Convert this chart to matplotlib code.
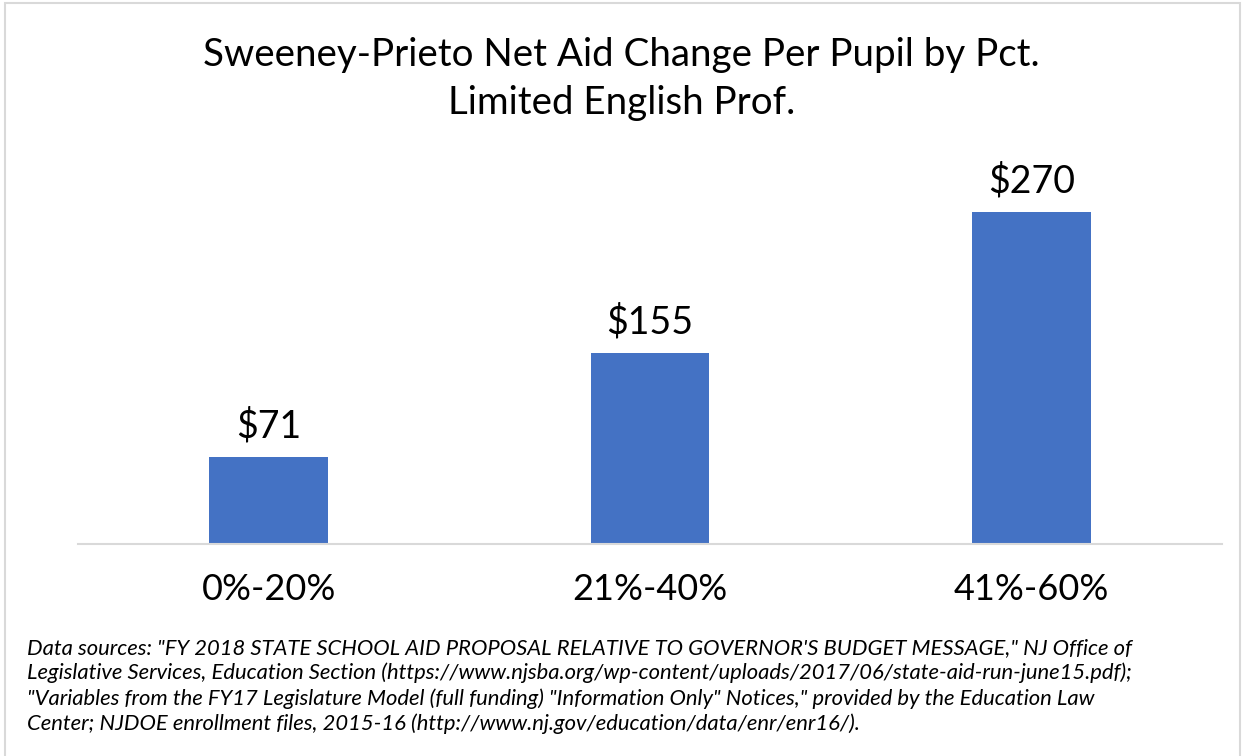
import matplotlib.pyplot as plt
from matplotlib.patches import Rectangle

# Net aid change per pupil, grouped by share of limited English proficiency students
categories = ['0%-20%', '21%-40%', '41%-60%']
aid_change = [71, 155, 270]
value_labels = ['$71', '$155', '$270']

title = 'Sweeney-Prieto Net Aid Change Per Pupil by Pct.\nLimited English Prof.'
note = ('Data sources: "FY 2018 STATE SCHOOL AID PROPOSAL RELATIVE TO GOVERNOR\'S BUDGET MESSAGE," NJ Office of\n'
        'Legislative Services, Education Section (https://www.njsba.org/wp-content/uploads/2017/06/state-aid-run-june15.pdf);\n'
        '"Variables from the FY17 Legislature Model (full funding) "Information Only" Notices," provided by the Education Law\n'
        'Center; NJDOE enrollment files, 2015-16 (http://www.nj.gov/education/data/enr/enr16/).')

plt.rcParams['font.family'] = ['Lato', 'DejaVu Sans']

W, H = 1243, 756
fig = plt.figure(figsize=(W / 100, H / 100), dpi=100)
fig.patch.set_facecolor('white')

# chart frame (open at the bottom edge)
fig.patches.append(Rectangle((5 / W, -0.05), 1235 / W, 1.05 - 3 / H,
                             transform=fig.transFigure, fill=False,
                             edgecolor='#d9d9d9', linewidth=1.5))

ax = fig.add_axes([78 / W, 1 - 544 / H, (1222 - 78) / W, (544 - 175) / H])
x = range(len(categories))
bars = ax.bar(x, aid_change, width=0.312, color='#4472c4')
ax.set_xlim(-0.5, len(categories) - 0.5)
ax.set_ylim(0, 300)

for b, lab in zip(bars, value_labels):
    ax.annotate(lab, (b.get_x() + b.get_width() / 2, b.get_height()),
                xytext=(0, 9), textcoords='offset points',
                ha='center', va='bottom', fontsize=27, color='black')

ax.set_xticks(list(x))
ax.set_xticklabels(categories, fontsize=26)
ax.tick_params(axis='x', length=0, pad=21)
ax.set_yticks([])
for side in ['left', 'right', 'top']:
    ax.spines[side].set_visible(False)
ax.spines['bottom'].set_color('#d9d9d9')
ax.spines['bottom'].set_linewidth(1.5)

fig.text(0.5, 1 - 79 / H, title, ha='center', va='center', fontsize=27.7,
         linespacing=1.38)

fig.text(27 / W, 1 - 686 / H, note, ha='left', va='center', fontsize=15.8,
         style='italic', linespacing=1.3)

fig.savefig('out.png', dpi=100)
